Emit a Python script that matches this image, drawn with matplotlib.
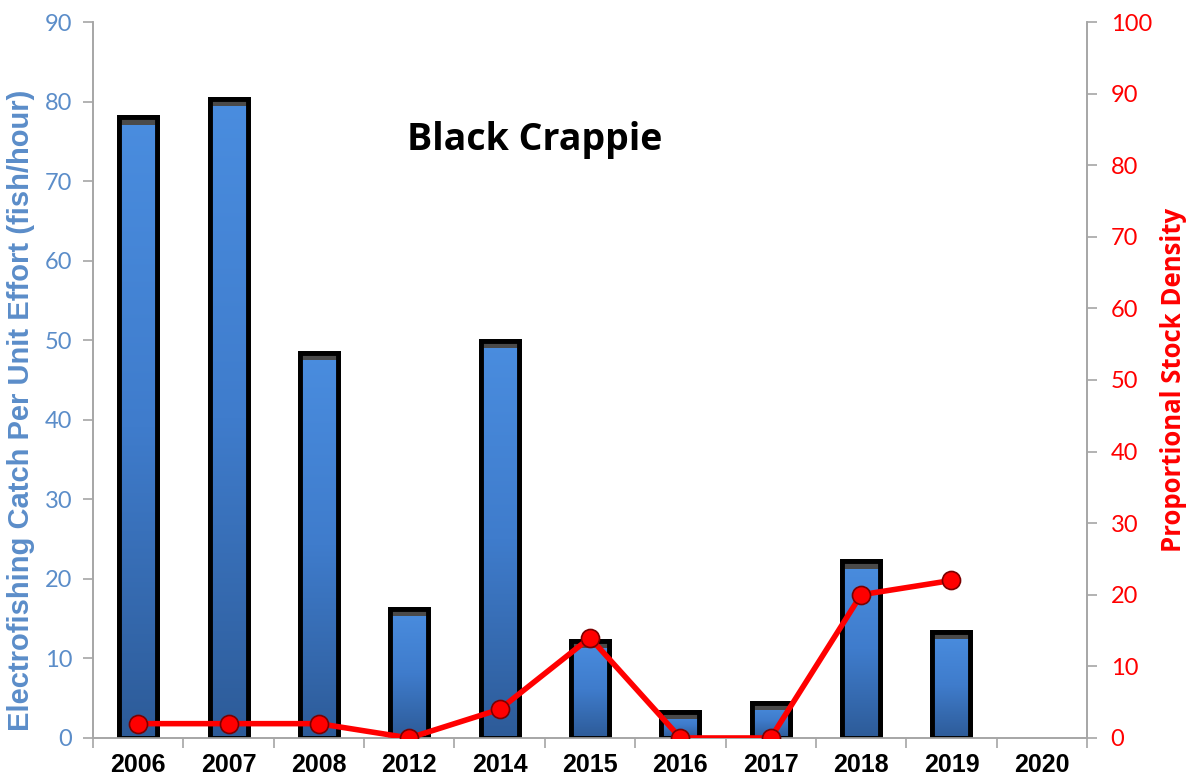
import numpy as np
import matplotlib
matplotlib.use("Agg")
import matplotlib.pyplot as plt
from matplotlib.colors import LinearSegmentedColormap

# data
years = ["2006", "2007", "2008", "2012", "2014", "2015", "2016", "2017", "2018", "2019", "2020"]
cpue = [78.0, 80.3, 48.4, 16.2, 49.9, 12.2, 3.3, 4.4, 22.2, 13.3, np.nan]
psd = [2, 2, 2, 0, 4, 14, 0, 0, 20, 22, np.nan]

plt.rcParams["font.family"] = ["Liberation Sans", "DejaVu Sans"]

BLUE_TXT = "#5b8dc9"
GRAY = "#a6a6a6"
TICK_FONT = ["Lato", "DejaVu Sans"]

fig = plt.figure(figsize=(11.94, 7.81), dpi=100)
ax = fig.add_axes([0.0779, 0.0551, 0.8325, 0.9167])
ax2 = ax.twinx()

x = np.arange(len(years))
bars = ax.bar(x, cpue, width=0.42, color="#3a74c0", edgecolor="black",
              linewidth=3.5, zorder=2)

# vertical gradient fill inside each bar
cmap = LinearSegmentedColormap.from_list("bar", ["#2d5b98", "#3f7ccc", "#4a8ddf"])
grad = np.linspace(0, 1, 256).reshape(-1, 1)
for b in bars:
    h = b.get_height()
    if not np.isfinite(h):
        continue
    x0, w = b.get_x(), b.get_width()
    im = ax.imshow(grad, cmap=cmap, origin="lower", aspect="auto",
                   extent=[x0, x0 + w, 0, h], zorder=2.5)
    im.set_clip_path(b)
    # dark cap at top of bar
    ax.bar(x0 + w / 2, 0.9, bottom=h - 0.9, width=w, color="#4a4a4a",
           linewidth=0, zorder=2.6)
    ax.bar(x0 + w / 2, h, width=w, fill=False, edgecolor="black",
           linewidth=3.5, zorder=2.7)

ax.set_xlim(-0.5, len(years) - 0.5)
ax.set_ylim(0, 90)
ax.set_yticks(np.arange(0, 91, 10))
ax.set_xticks(x)
ax.set_xticklabels(years, fontsize=18, fontweight="bold")
ax.set_xticks(np.arange(-0.5, len(years), 1), minor=True)
ax.tick_params(axis="x", which="major", length=0, pad=11)
ax.tick_params(axis="x", which="minor", length=7, color=GRAY, width=1.2)
ax.tick_params(axis="y", length=7, color=GRAY, width=1.2, labelsize=17,
               labelcolor=BLUE_TXT, pad=8)
for t in ax.get_yticklabels():
    t.set_family(TICK_FONT)
ax.set_ylabel("Electrofishing Catch Per Unit Effort (fish/hour)", fontsize=21,
              fontweight="bold", color=BLUE_TXT)
ax.yaxis.set_label_coords(-0.058, 0.457)

ax2.plot(x, psd, color="red", linewidth=4, marker="o", markersize=13,
         markerfacecolor="red", markeredgecolor="#7a0000", markeredgewidth=1.2,
         zorder=5)
ax2.set_ylim(0, 100)
ax2.set_yticks(np.arange(0, 101, 10))
ax2.tick_params(axis="y", length=7, color=GRAY, width=1.2, labelsize=17,
                labelcolor="red", pad=10)
for t in ax2.get_yticklabels():
    t.set_family(TICK_FONT)
ax2.set_ylabel("Proportional Stock Density", fontsize=18.5, fontweight="bold",
               color="red", labelpad=6, family=["Open Sans", "DejaVu Sans"])

for a in (ax, ax2):
    a.spines["top"].set_visible(False)
    for s in ("left", "right", "bottom"):
        a.spines[s].set_color(GRAY)
        a.spines[s].set_linewidth(1.2)
ax.set_zorder(ax2.get_zorder() - 1)
ax2.patch.set_visible(False)

ax.text(0.444, 0.835, "Black Crappie", transform=ax.transAxes, ha="center",
        va="center", fontsize=27, fontweight="bold",
        family=["Open Sans", "DejaVu Sans"])

fig.savefig("out.png", dpi=100)
